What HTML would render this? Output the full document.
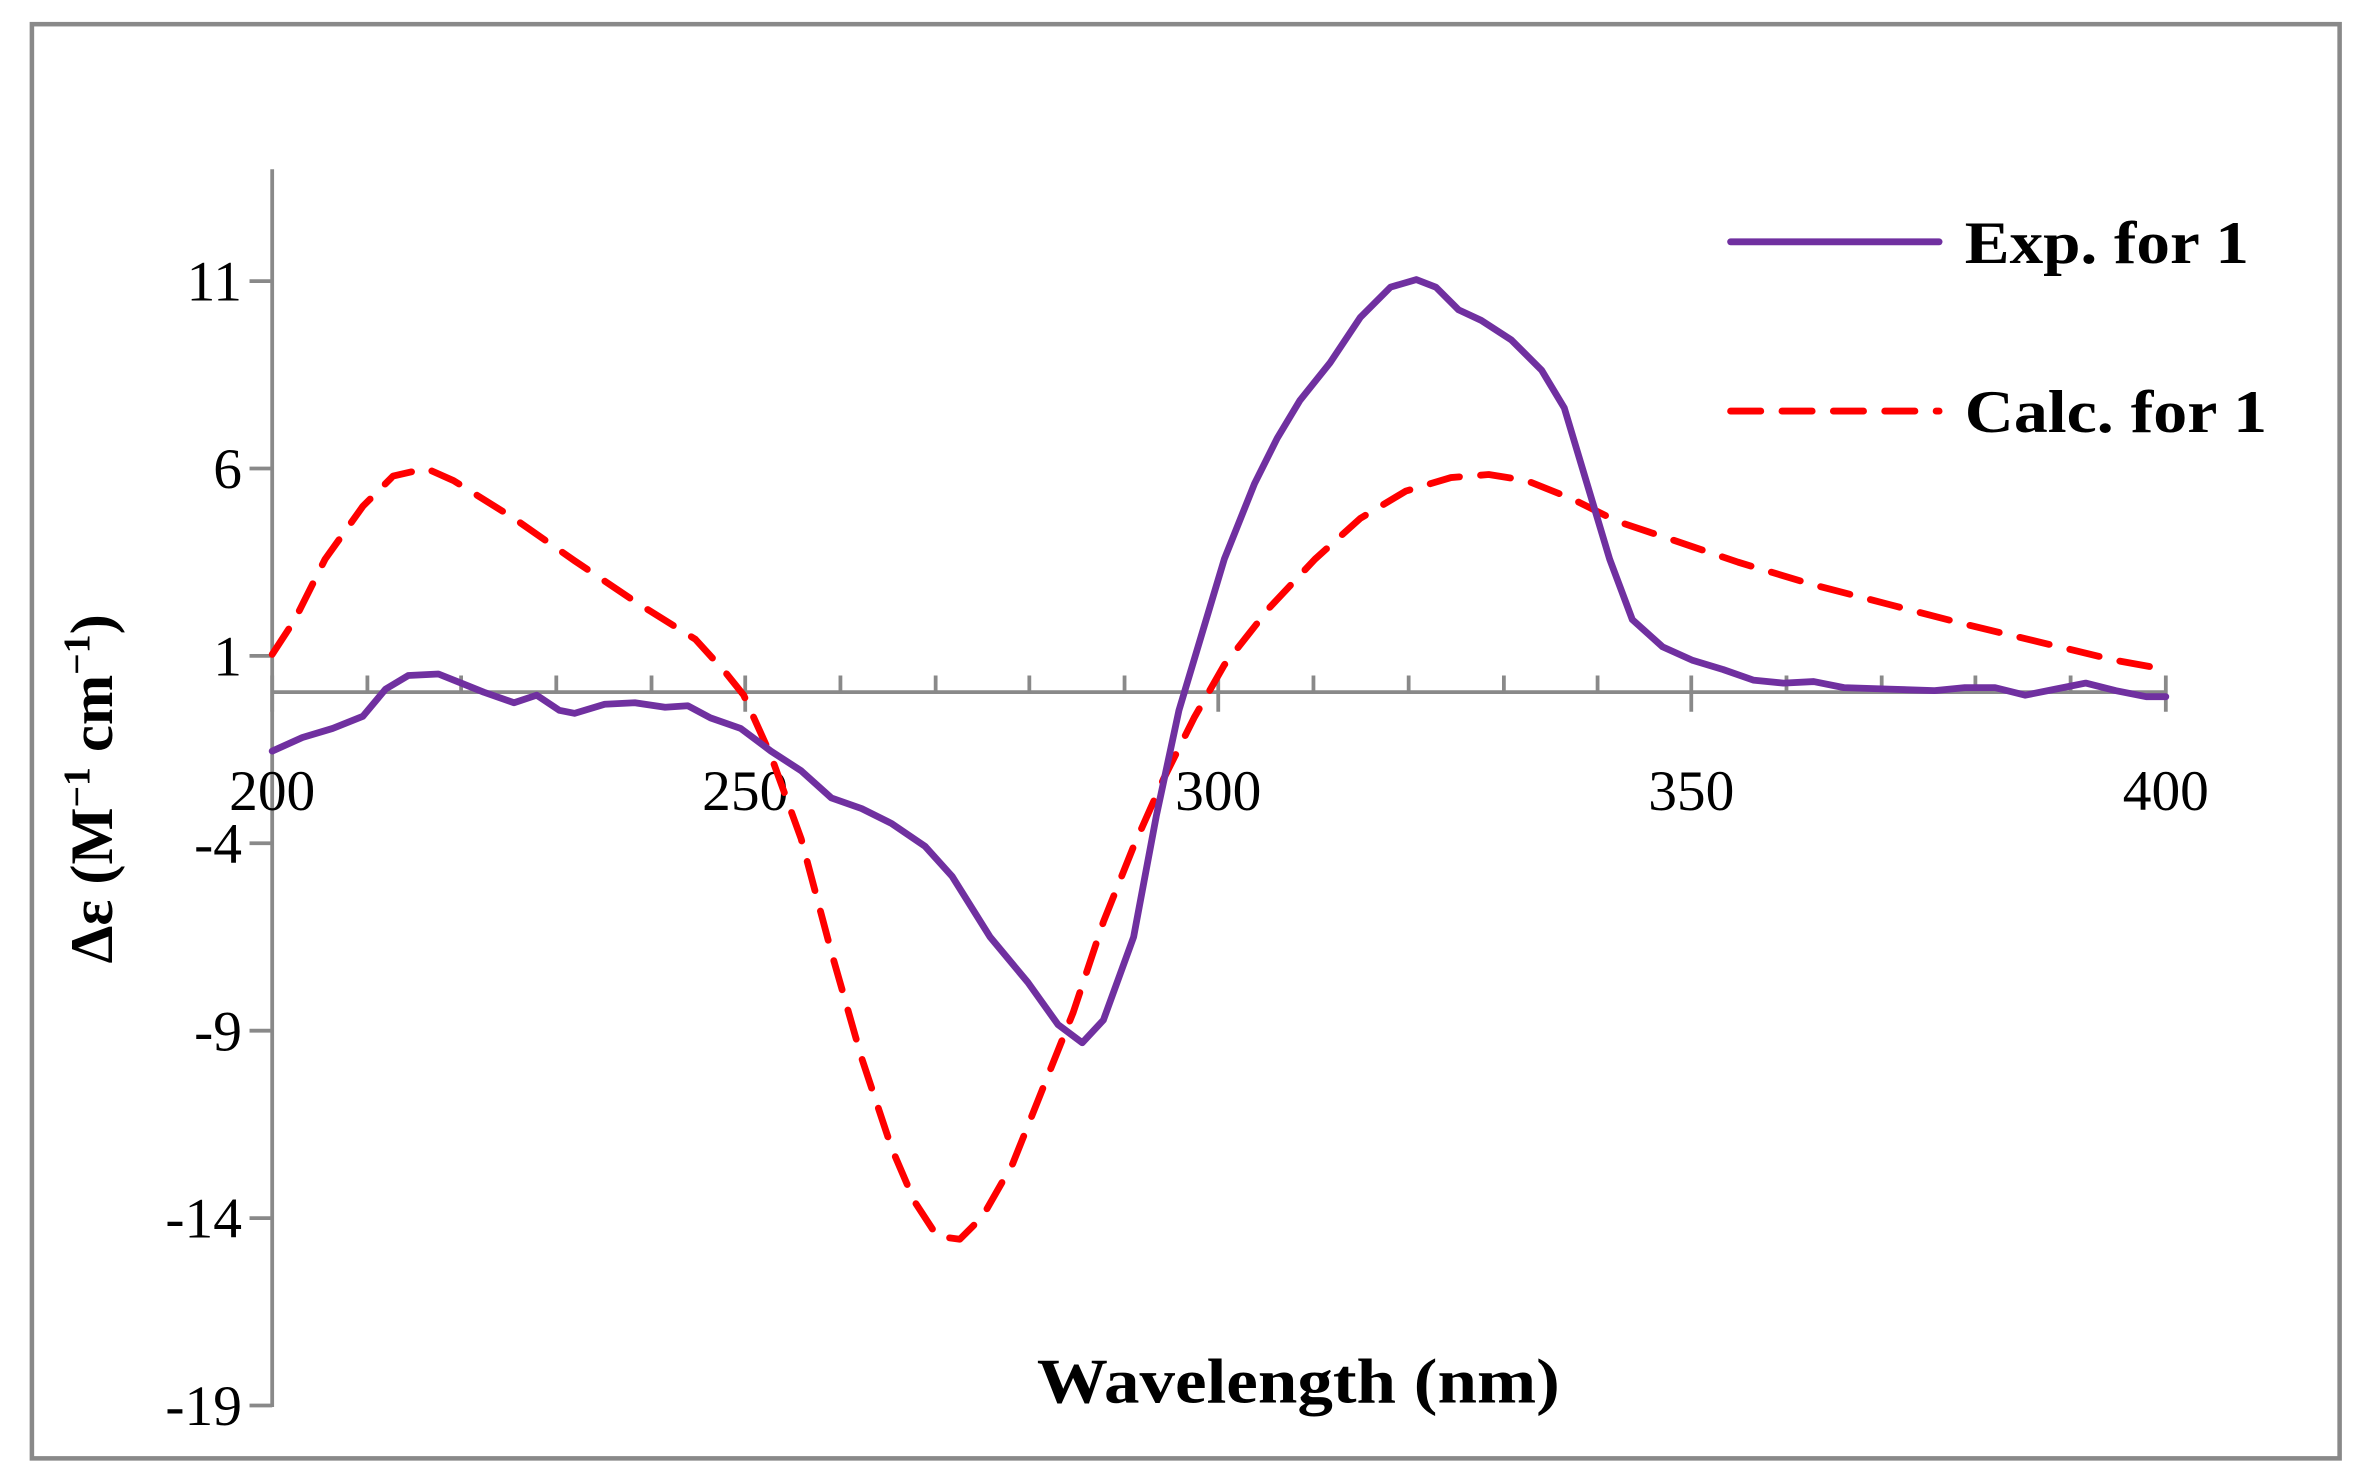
<!DOCTYPE html>
<html><head><meta charset="utf-8"><style>
html,body{margin:0;padding:0;background:#fff;}
svg{display:block;}
text{font-family:"Liberation Serif",serif;fill:#000;}
</style></head><body>
<svg width="2370" height="1475" viewBox="0 0 1568 976" xmlns="http://www.w3.org/2000/svg">
<rect x="0" y="0" width="1568" height="976" fill="#fff"/>
<rect x="21" y="16" width="1527" height="949" fill="none" stroke="#898989" stroke-width="3"/>
<g stroke="#898989" stroke-width="2.5" fill="none">
<line x1="180" y1="112" x2="180" y2="931"/>
<line x1="180" y1="458" x2="1433" y2="458"/>
<line x1="165" y1="186" x2="180" y2="186"/>
<line x1="165" y1="310" x2="180" y2="310"/>
<line x1="165" y1="434" x2="180" y2="434"/>
<line x1="165" y1="558" x2="180" y2="558"/>
<line x1="165" y1="682" x2="180" y2="682"/>
<line x1="165" y1="806" x2="180" y2="806"/>
<line x1="165" y1="930" x2="180" y2="930"/>
<path d="M243 458V447M305 458V447M368 458V447M431 458V447M556 458V447M619 458V447M681 458V447M744 458V447M869 458V447M932 458V447M995 458V447M1057 458V447M1182 458V447M1245 458V447M1307 458V447M1370 458V447"/>
<path d="M180 447V471M493 447V471M806 447V471M1119 447V471M1433 447V471"/>
</g>
<g font-size="38" text-anchor="end">
<text x="160" y="199">11</text>
<text x="160" y="323">6</text>
<text x="160" y="447">1</text>
<text x="160" y="571">-4</text>
<text x="160" y="695">-9</text>
<text x="160" y="819">-14</text>
<text x="160" y="943">-19</text>
</g>
<g font-size="38" text-anchor="middle">
<text x="180" y="536">200</text>
<text x="493" y="536">250</text>
<text x="806" y="536">300</text>
<text x="1119" y="536">350</text>
<text x="1433" y="536">400</text>
</g>
<text x="686" y="928" font-size="42" font-weight="bold" textLength="346" lengthAdjust="spacingAndGlyphs">Wavelength (nm)</text>
<text transform="translate(74,522) rotate(-90)" font-size="40" font-weight="bold" text-anchor="middle">Δε (M<tspan font-size="25" dy="-15">−1</tspan><tspan dy="15"> cm</tspan><tspan font-size="25" dy="-15">−1</tspan><tspan dy="15">)</tspan></text>
<polyline fill="none" stroke="#FF0000" stroke-width="4.5" stroke-linecap="round" stroke-linejoin="round" stroke-dasharray="20 14" points="180,433 195,410 215,370 240,335 260,315 282,310 300,318 340,343 380,371 420,398 460,423 480,445 492,460 510,500 530,555 550,630 570,700 590,760 605,795 620,818 635,820 650,805 670,770 690,720 710,670 730,610 750,560 770,515 790,475 810,440 840,402 870,370 900,343 930,325 960,316 985,314 1010,318 1040,330 1070,345 1100,355 1150,372 1200,387 1250,400 1300,413 1350,425 1400,437 1433,443"/>
<polyline fill="none" stroke="#7030A0" stroke-width="4.5" stroke-linejoin="round" stroke-linecap="round" points="180,497 200,488 220,482 240,474 255,456 270,447 290,446 305,452 320,458 340,465 355,460 370,470 380,472 400,466 420,465 440,468 455,467 470,475 490,482 510,497 530,510 550,528 570,535 590,545 612,560 630,580 655,620 680,650 700,678 716,690 730,675 750,620 765,540 780,470 795,420 810,370 830,320 845,290 860,265 880,240 900,210 920,190 937,185 950,190 965,205 980,212 1000,225 1020,245 1035,270 1050,320 1065,370 1080,410 1100,428 1120,437 1140,443 1160,450 1180,452 1200,451 1220,455 1250,456 1280,457 1300,455 1320,455 1340,460 1360,456 1380,452 1400,457 1420,461 1433,461"/>
<line x1="1145" y1="160" x2="1283" y2="160" stroke="#7030A0" stroke-width="4.5" stroke-linecap="round"/>
<line x1="1145" y1="272" x2="1283" y2="272" stroke="#FF0000" stroke-width="4.5" stroke-linecap="round" stroke-dasharray="20 14"/>
<text x="1300" y="174" font-size="40" font-weight="bold" textLength="188" lengthAdjust="spacingAndGlyphs">Exp. for 1</text>
<text x="1300" y="286" font-size="40" font-weight="bold" textLength="200" lengthAdjust="spacingAndGlyphs">Calc. for 1</text>
</svg>
</body></html>
